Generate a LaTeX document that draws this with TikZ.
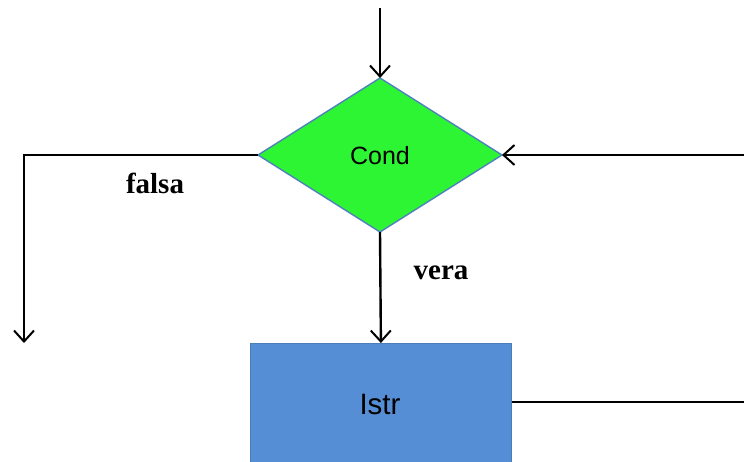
\documentclass[tikz,border=0pt]{standalone}
\usepackage{fontspec}
\setmainfont{Liberation Serif}
\setsansfont{Liberation Sans}
\usetikzlibrary{arrows.meta}
\definecolor{condgreen}{RGB}{46,245,52}
\definecolor{condborder}{RGB}{79,129,189}
\definecolor{boxblue}{RGB}{85,142,213}
\definecolor{boxborder}{RGB}{74,126,187}
\tikzset{
  conn/.style={line width=2.4pt, black, -{Straight Barb[length=11pt,width=20pt,line width=2pt]}},
  plain/.style={line width=2.4pt, black},
  lbl/.style={font=\fontsize{29}{31}\selectfont\bfseries, inner sep=0pt},
}
\begin{document}
\begin{tikzpicture}[x=1pt,y=-1pt]
\useasboundingbox (0,0) rectangle (744,461);
\coordinate (cn) at (380,78);
\coordinate (cw) at (258,155);
\coordinate (ce) at (502,155);
\coordinate (cs) at (380,232);
\filldraw[draw=condborder, line width=1.4pt, fill=condgreen] (cn) -- (ce) -- (cs) -- (cw) -- cycle;
\node[font=\sffamily\fontsize{25}{27}\selectfont] (cond) at (380,156) {Cond};
\node[draw=boxborder, line width=0.8pt, fill=boxblue, minimum width=261pt, minimum height=124pt, inner sep=0pt, anchor=north west] (istr) at (250,343) {};
\node[font=\sffamily\fontsize{29.5}{31}\selectfont] (istrlbl) at (380,404) {Istr};
\coordinate (top) at (380,8);
\coordinate (lc) at (24,155);
\coordinate (lend) at (24,343);
\coordinate (rin) at (744,155);
\coordinate (rout) at (744,402);
\draw[conn] (top) -- (cn);
\draw[conn] (cw) -- (lc) -- (lend);
\draw[conn] (rin) -- (ce);
\draw[conn] (cs) -- (istr.north);
\draw[plain] (istr.east |- rout) -- (rout);
\node[lbl] (falsa) at (155,183) {falsa};
\node[lbl] (vera) at (441,273) {vera};
\end{tikzpicture}
\end{document}
